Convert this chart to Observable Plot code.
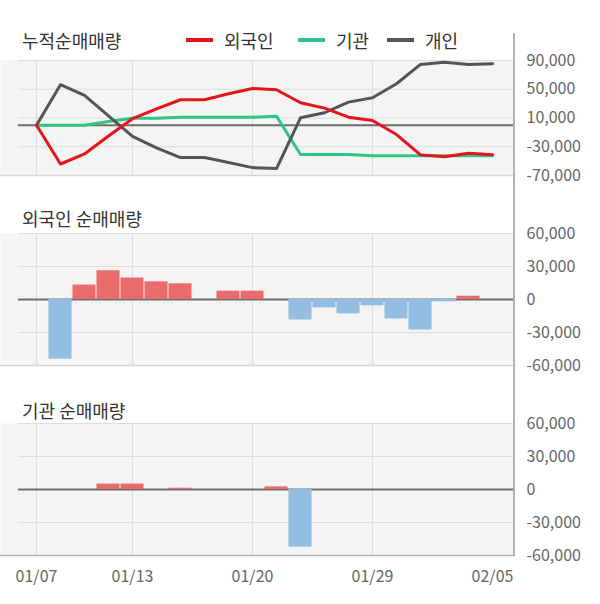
<!DOCTYPE html>
<html>
<head>
<meta charset="utf-8">
<script src="https://cdn.jsdelivr.net/npm/d3@7"></script>
<script src="https://cdn.jsdelivr.net/npm/@observablehq/plot@0.6"></script>
<style>
  body { margin: 0; background: #fff; font-family: "Noto Sans CJK KR", "Noto Sans", sans-serif; }
  #wrap { position: relative; width: 600px; height: 604px; overflow: hidden; }
  .panel { position: absolute; left: 0; }
  .title { position: absolute; left: 22px; font-size: 18px; color: #333; line-height: 20px; white-space: nowrap; }
  .leg { position: absolute; top: 30px; height: 20px; display: flex; align-items: center; font-size: 18px; color: #333; white-space: nowrap; }
  .sw { width: 27px; height: 4px; margin-right: 11px; }
  #axisline { position: absolute; left: 513px; top: 33px; width: 2px; height: 522px; background: #b3b3b3; }
</style>
</head>
<body>
<div id="wrap"></div>
<script>
// ---- data ----
const dates = ["01/07","01/08","01/09","01/10","01/13","01/14","01/15","01/16","01/17","01/20",
               "01/21","01/22","01/23","01/28","01/29","01/30","01/31","02/03","02/04","02/05"];
const tickDates = ["01/07","01/13","01/20","01/29","02/05"];
const gridDates = ["01/07","01/13","01/20","01/29"];

// cumulative net buying (누적순매매량)
const foreignCum = [0,-54000,-40000,-15000,9000,22800,35400,35400,43700,51000,
                    49300,31200,23700,11100,6500,-13000,-41300,-44000,-39000,-41000];
const instCum    = [0,0,0,5000,9800,9800,11000,11000,11000,11000,
                    12500,-40800,-40800,-40800,-42600,-42600,-42600,-42600,-42600,-42600];
const indivCum   = [0,56300,41400,13000,-15700,-31500,-45000,-45000,-52000,-59000,
                    -60400,10300,17300,32100,38200,57700,84600,87400,84600,85600];

// daily net buying
const foreignDaily = [0,-54200,13100,26200,19500,16100,14300,0,7600,7600,
                      0,-18600,-7600,-13100,-5800,-17700,-27700,-2100,3000,0];
const instDaily    = [0,0,0,4900,4900,0,1200,0,0,0,
                      2400,-52400,0,0,0,0,0,0,0,0];

const topTicks = [90000,50000,10000,-30000,-70000];
const barTicks = [60000,30000,0,-30000,-60000];

const seriesNames = ["외국인","기관","개인"];
const seriesColors = ["#e5141b","#2cc68a","#555555"];

// ---- layout ----
const idx = d3.range(dates.length);
const xDomain = [-1.5, 19.9167];
const xLeftGrid = -0.75;
const fmt = d => d3.format(",")(d).replace("\u2212", "-");
const posColor = "#ea6b6c", negColor = "#93bee1";
const font = '"Noto Sans CJK KR","Noto Sans",sans-serif';

function base({height, marginTop, marginBottom, yDomain, yTicks, marks, bottomStroke, xLabels}) {
  return Plot.plot({
    width: 600, height, marginLeft: 0, marginRight: 86, marginTop, marginBottom,
    style: {fontFamily: font, background: "transparent", overflow: "visible"},
    x: {type: "linear", domain: xDomain, axis: null},
    y: {domain: yDomain, axis: null},
    marks: [
      Plot.frame({fill: "#f4f4f4", stroke: null}),
      Plot.ruleY(yTicks.filter(d => d !== 0), {x1: xLeftGrid, x2: xDomain[1], stroke: "#dddddd", strokeWidth: 1}),
      Plot.ruleX(gridDates.map(d => dates.indexOf(d)), {stroke: "#dddddd", strokeWidth: 1}),
      Plot.frame({anchor: "bottom", stroke: bottomStroke, strokeWidth: 1.5}),
      Plot.ruleY([0], {x1: xLeftGrid, x2: xDomain[1], stroke: "#6e6e6e", strokeWidth: 2}),
      ...marks,
      Plot.text(yTicks, {x: xDomain[1], y: d => d, text: d => fmt(d), dx: 12, textAnchor: "start",
                         fontSize: 16, fill: "#666"}),
      ...(xLabels ? [Plot.text(tickDates, {x: d => dates.indexOf(d), frameAnchor: "bottom", dy: 26,
                         text: d => d, fontSize: 16, fill: "#666"})] : [])
    ]
  });
}

function barMarks(values) {
  return [Plot.rectY(idx.filter(i => values[i] !== 0), {
    x1: i => i - 0.48, x2: i => i + 0.48, y1: 0, y2: i => values[i],
    fill: i => values[i] > 0 ? posColor : negColor
  })];
}

const wrap = document.getElementById("wrap");

// panel 1: cumulative lines
const cums = [foreignCum, instCum, indivCum];
const drawOrder = [1, 2, 0];
const p1 = base({
  height: 200, marginTop: 60, marginBottom: 25, yDomain: [-70000, 90000], yTicks: topTicks,
  bottomStroke: "#d6d6d6",
  marks: drawOrder.map(s => Plot.line(idx, {x: i => i, y: i => cums[s][i], stroke: seriesColors[s], strokeWidth: 3}))
});
p1.classList.add("panel"); p1.style.top = "0px";
wrap.appendChild(p1);

// panel 2: foreign daily
const p2 = base({
  height: 190, marginTop: 33, marginBottom: 25, yDomain: [-60000, 60000], yTicks: barTicks,
  bottomStroke: "#d6d6d6", marks: barMarks(foreignDaily)
});
p2.classList.add("panel"); p2.style.top = "200px";
wrap.appendChild(p2);

// panel 3: institution daily
const p3 = base({
  height: 214, marginTop: 33, marginBottom: 49, yDomain: [-60000, 60000], yTicks: barTicks,
  bottomStroke: "#b3b3b3", marks: barMarks(instDaily), xLabels: true
});
p3.classList.add("panel"); p3.style.top = "390px";
wrap.appendChild(p3);

// titles
[["누적순매매량", 30], ["외국인 순매매량", 208], ["기관 순매매량", 400]].forEach(([t, top]) => {
  const d = document.createElement("div");
  d.className = "title"; d.textContent = t; d.style.top = top + "px";
  wrap.appendChild(d);
});

// legend
const legX = [186, 298, 387];
seriesNames.forEach((n, k) => {
  const d = document.createElement("div");
  d.className = "leg"; d.style.left = legX[k] + "px";
  const sw = document.createElement("span");
  sw.className = "sw"; sw.style.background = seriesColors[k];
  d.appendChild(sw);
  d.appendChild(document.createTextNode(n));
  wrap.appendChild(d);
});

// right axis line
const ax = document.createElement("div");
ax.id = "axisline";
wrap.appendChild(ax);
</script>
</body>
</html>
